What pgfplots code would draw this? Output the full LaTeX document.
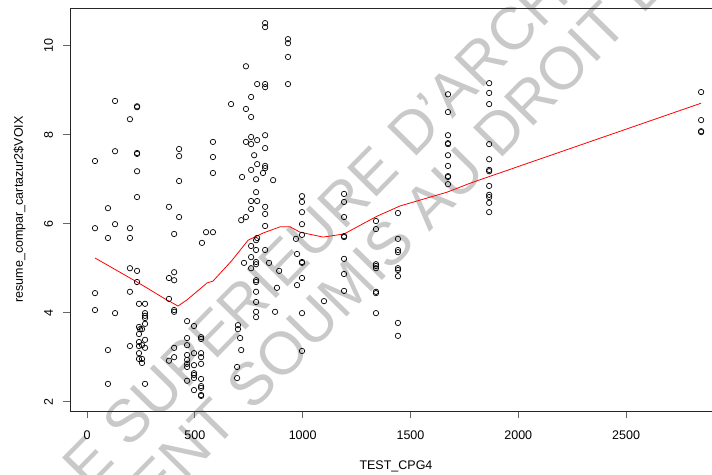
\documentclass[border=0pt]{standalone}
\usepackage{fontspec}
\setmainfont{Liberation Sans}
\usepackage{pgfplots}
\pgfplotsset{compat=1.18}
\usepackage{pgfplotstable}

% points : TEST_CPG4 / resume_compar_cartazur2$VOIX
\pgfplotstableread{
x y
130 8.76
232 8.64
232 8.62
199 8.35
37 7.41
130 7.63
232 7.59
232 7.57
232 7.18
232 6.60
97 6.35
37 5.90
130 5.99
199 5.90
97 5.68
199 5.68
199 5.00
232 4.94
232 4.69
199 4.47
37 4.44
37 4.06
130 3.99
241 4.20
269 4.20
269 3.99
269 3.93
269 3.88
269 3.75
241 3.68
246 3.63
255 3.63
241 3.52
269 3.39
241 3.34
199 3.25
241 3.25
255 3.27
269 3.21
241 3.09
241 2.96
255 2.96
255 2.87
97 3.16
97 2.40
269 2.40
380 6.38
404 5.77
427 7.68
427 7.52
427 6.96
427 6.15
552 5.81
584 5.81
584 7.84
584 7.50
584 7.14
533 5.57
404 4.91
380 4.78
404 4.73
380 4.31
404 4.06
404 4.02
404 3.21
404 3.00
380 2.92
464 3.81
496 3.70
464 3.43
464 3.27
529 3.45
529 3.41
496 3.09
464 3.05
464 2.94
464 2.85
464 2.78
529 3.09
529 3.00
529 2.85
496 2.82
496 2.64
496 2.60
496 2.53
464 2.47
529 2.51
529 2.35
529 2.31
496 2.26
529 2.15
529 2.13
668 8.69
826 10.51
826 10.42
932 10.15
932 10.06
932 9.75
932 9.14
737 9.54
789 9.14
826 9.14
826 9.07
761 8.85
737 8.58
761 8.40
826 7.99
761 7.95
789 7.88
737 7.84
761 7.79
826 7.70
775 7.54
789 7.34
826 7.30
826 7.25
761 7.21
816 7.14
719 7.05
784 7.00
863 6.98
784 6.71
761 6.51
789 6.51
826 6.38
761 6.33
826 6.22
737 6.15
715 6.08
826 5.95
789 5.68
784 5.63
761 5.50
784 5.41
826 5.41
761 5.25
728 5.12
784 5.14
784 5.09
844 5.12
761 5.00
891 4.94
784 4.73
784 4.69
881 4.56
784 4.47
784 4.24
784 4.02
784 3.90
872 4.02
700 3.72
700 3.63
710 3.43
715 3.16
696 2.78
696 2.53
997 6.62
997 6.49
997 6.26
997 5.99
997 5.75
969 5.66
974 5.32
997 5.14
997 5.12
997 4.78
974 4.62
997 3.99
997 3.14
1099 4.26
1192 6.67
1192 6.49
1192 6.15
1192 5.72
1192 5.70
1192 5.21
1192 4.87
1192 4.49
1340 6.06
1340 5.88
1340 5.09
1340 5.05
1340 5.00
1340 4.47
1340 4.44
1340 3.99
1442 6.24
1442 5.66
1442 5.41
1442 5.36
1442 5.00
1442 4.96
1442 4.82
1442 3.77
1442 3.48
1674 8.91
1674 8.51
1674 7.99
1674 7.81
1674 7.79
1674 7.54
1674 7.30
1674 7.07
1674 7.05
1674 6.89
1865 9.16
1865 8.94
1865 8.69
1865 7.79
1865 7.45
1865 7.21
1865 7.18
1865 6.85
1865 6.65
1865 6.60
1865 6.47
1865 6.26
2848 8.96
2848 8.33
2848 8.08
2848 8.06
}\voix

% courbe lissee (lowess)
\pgfplotstableread{
x y
37 5.23
232 4.69
362 4.31
422 4.15
464 4.29
557 4.67
584 4.71
673 5.18
747 5.63
816 5.79
895 5.93
942 5.93
988 5.81
1095 5.70
1192 5.77
1345 6.17
1452 6.40
1670 6.71
1776 6.91
2848 8.71
}\lissage

\begin{document}
\begin{tikzpicture}
% filigrane
\begin{scope}[every node/.style={inner sep=0pt, rotate=45.5, anchor=base west,
    text=black!21, font=\fontsize{60}{60}\selectfont}]
\node at (58pt,-39pt) {\llap{ECOLE NATIONALE }SUPERIEURE D'ARCHITECTURE};
\node at (182pt,-2pt) {\llap{DOCUMENT }SOUMIS AU DROIT D'AUTEUR};
\end{scope}

\begin{axis}[
    at={(0pt,0pt)}, anchor=south west,
    scale only axis,
    width=646pt, height=403pt,
    xmin=-79, xmax=2917,
    ymin=1.79, ymax=10.85,
    xtick={0,500,...,2500},
    ytick={2,4,...,10},
    scaled x ticks=false,
    /pgf/number format/1000 sep={},
    /pgf/number format/assume math mode=true,
    tick align=outside,
    major tick length=7pt,
    xtick pos=left, ytick pos=left,
    tick style={black!60, line width=0.8pt},
    axis line style={black!85, line width=0.9pt},
    tick label style={font=\fontsize{12.5}{14}\selectfont},
    xticklabel style={anchor=base, yshift=-21pt},
    yticklabel style={rotate=90, anchor=base},
    yticklabel shift=10pt,
    label style={font=\fontsize{12.5}{14}\selectfont},
    xlabel={TEST\_CPG4},
    ylabel={resume\_compar\_cartazur2\$VOIX},
    xlabel style={at={(axis description cs:0.5046,-0.1464)}, anchor=base},
    ylabel style={at={(axis description cs:-0.0728,0.5)}, anchor=base},
]
\addplot[only marks, mark=o, mark size=2.7pt, mark options={black, line width=0.7pt}]
    table[x=x, y=y] {\voix};
\addplot[red, line width=0.8pt, no marks] table[x=x, y=y] {\lissage};
\end{axis}
\pgfresetboundingbox
\useasboundingbox (-70pt,-63pt) rectangle (642pt,411pt);
\end{tikzpicture}
\end{document}
